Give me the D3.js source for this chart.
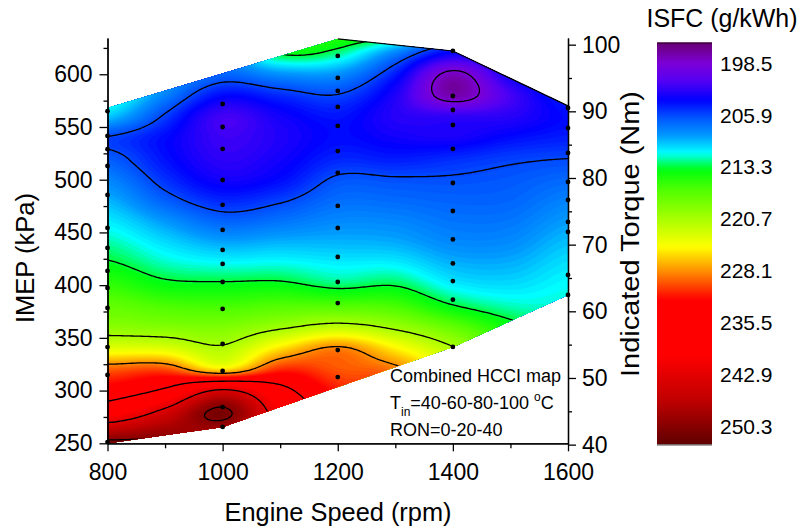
<!DOCTYPE html>
<html><head><meta charset="utf-8">
<script src="https://cdn.jsdelivr.net/npm/d3@7"></script>
<style>
body{margin:0;background:#fff}
text{font-family:Arial,"Liberation Sans",sans-serif;fill:#000}
</style></head>
<body><svg id="chart" width="802" height="531"></svg>
<script>
// ---------------- data ----------------
const gridSpeeds = [800,900,1000,1100,1200,1300,1400,1500,1600];
const gridImep = [240,260,280,300,320,340,360,380,400,420,440,460,480,500,520,540,560,580,600,620,640];
// ISFC (g/kWh), one list per engine speed, low -> high IMEP
const isfc800  = [255,247.3,238.4,233.2,229.5,223.4,219.4,217.5,215.5,213.6,212.2,210.9,209.5,208.1,206.6,205.8,210,212.5,214,216,218];
const isfc900  = [252,249,244,236.3,230,223.2,219.0,216.5,213.9,212,210.5,208.8,206.7,205.2,204.2,204,205.6,208,210,212,214];
const isfc1000 = [246,247.5,251.0,243.5,225.5,221.2,218.8,216.2,213.7,211.4,209.2,206.9,204.9,203.2,202.3,201.8,201.6,204.0,207,209,211];
const isfc1100 = [244,242,240.5,237,231,225.5,220.3,216.8,213.8,211.5,209.5,207.5,205.7,204,203.2,202.8,203.2,205,208.5,213.5,216];
const isfc1200 = [238,236,233.5,231.5,229.8,228.5,221.8,216.8,212.8,211,209.5,208.3,207.2,206.2,204.8,204,204.3,205.8,208.5,212.5,215.5];
const isfc1300 = [235,234,232.5,231,228.8,225,220.2,216.3,213.2,211,209.3,208.2,207.1,206.1,204.5,203.3,202.6,202.8,204.5,208,214];
const isfc1400 = [230,229,228,226.5,224,221,217.5,213.5,211,209.5,208.3,207.5,206.8,206.1,205,203,202.2,197.3,197.8,203.5,208];
const isfc1500 = [226,225,224,222.5,220,217,214.2,212,210.5,209.4,208.4,207.6,206.9,206.4,205.6,204,202.5,201.5,203.5,206,209];
const isfc1600 = [222,221,220,218.5,216.5,214.5,212.5,211.8,211.3,210.6,209.8,208.9,208,207,205.9,204.6,204,205,207,209,211];
const isfcColumns = [isfc800,isfc900,isfc1000,isfc1100,isfc1200,isfc1300,isfc1400,isfc1500,isfc1600];

// measured operating points (black dots)
const dotSpeeds = [800,1000,1200,1400,1600];
const dotImep800  = [565,541.5,529,513,485.6,454.3,435.3,413.5,397.3,378.3,341.3,314.8,251.2];
const dotImep1000 = [571.8,550,529.2,499.7,476.2,452.4,433.4,420.1,403,377.4,344.2,318.6,284.4,265.5];
const dotImep1200 = [617.4,596.5,584.2,569,551,527.2,506.4,475.1,454.2,426.7,403,383,338.4,312.8];
const dotImep1400 = [622.1,579.4,566.1,551.9,529.2,496.9,470.3,443.4,420.6,403.9,386.2,341.4];
const dotImep1600 = [568,549,525.4,497.9,480.8,460,450.5,409.7,390.7];
const dotImeps = [dotImep800,dotImep1000,dotImep1200,dotImep1400,dotImep1600];

// outline of the mapped region
const hullSpeed = [800,1000,1400,1600,1600,1400,1200,800];
const hullImep  = [250,265.5,341.4,390.6,570,622.1,633.5,568];
const edgeSpeed = [1200,1400,1600];
const edgeImep  = [633.5,622.1,570];

// contour levels / colour bar labels
const levels = [198.5,205.9,213.3,220.7,228.1,235.5,242.9,250.3];
const colorVals = [195.65,198.5,200.9,203.8,206.2,208.8,211.3,213.7,216.6,220.7,224.7,228.1,232.2,240.0,246.5,252.9];
const colorHex  = ['#680074','#7c00d6','#5800f2','#0000ff','#0052ff','#0098ff','#00ffff','#00ff10','#50ff00','#a8ff00','#ffff00','#ff9000','#ff0000','#ff0000','#c00000','#5e0000'];

const xTicks = [800,1000,1200,1400,1600];
const xMinor = [900,1100,1300,1500];
const yTicks = [250,300,350,400,450,500,550,600];
const yMinor = [275,325,375,425,475,525,575,625];
const tTicks = [40,50,60,70,80,90,100];
const tMinor = [45,55,65,75,85,95];

// ---------------- scales ----------------
const svg = d3.select('#chart');
const x = d3.scaleLinear().domain([800,1600]).range([107.5,568]);
const y = d3.scaleLinear().domain([250,634.4]).range([443.3,38]);
const yT = d3.scaleLinear().domain([40.2,101.0]).range([443.3,38]);
const color = d3.scaleLinear().domain(colorVals).range(colorHex).clamp(true);
const cb = d3.scaleLinear().domain([195.65,252.9]).range([43,445]);

// ---------------- surface ----------------
function cr(p0,p1,p2,p3,t){return p1+0.5*t*(p2-p0+t*(2*p0-5*p1+4*p2-p3+t*(3*(p1-p2)+p3-p0)));}
const nC = gridSpeeds.length, nR = gridImep.length;
function g(c,r){c=Math.max(0,Math.min(nC-1,c));r=Math.max(0,Math.min(nR-1,r));return isfcColumns[c][r];}
function surf(s,p){
  let fx=(s-gridSpeeds[0])/(gridSpeeds[1]-gridSpeeds[0]);
  let fy=(p-gridImep[0])/(gridImep[1]-gridImep[0]);
  fx=Math.max(0,Math.min(nC-1,fx)); fy=Math.max(0,Math.min(nR-1,fy));
  const c=Math.min(nC-2,Math.floor(fx)), r=Math.min(nR-2,Math.floor(fy));
  const tx=fx-c, ty=fy-r;
  const col=[];
  for(let k=-1;k<=2;k++){col.push(cr(g(c-1,r+k),g(c,r+k),g(c+1,r+k),g(c+2,r+k),tx));}
  return cr(col[0],col[1],col[2],col[3],ty);
}
const step=2, gx0=100, gy0=30, nx=240, ny=212;
const values=new Float64Array(nx*ny);
for(let j=0;j<ny;j++)for(let i=0;i<nx;i++){
  values[j*nx+i]=surf(x.invert(gx0+i*step),y.invert(gy0+j*step));
}
const gridPath=d3.geoPath(d3.geoTransform({point(px,py){this.stream.point(gx0+(px-0.5)*step,gy0+(py-0.5)*step);}}));

const hullLine=d3.line().x(d=>x(d[0])).y(d=>y(d[1]));
const hullPts=hullSpeed.map((s,i)=>[s,hullImep[i]]);
const defs=svg.append('defs');
defs.append('clipPath').attr('id','hull').append('path').attr('d',hullLine(hullPts)+'Z');

const map=svg.append('g').attr('clip-path','url(#hull)');
const bandT=d3.range(194,254,0.3);
const bands=d3.contours().size([nx,ny]).thresholds(bandT)(values);
map.selectAll('path.band').data(bands).join('path').attr('class','band')
  .attr('d',gridPath).attr('fill',d=>color(d.value+0.15)).attr('stroke',d=>color(d.value+0.15)).attr('stroke-width',0.3);
const lines=d3.contours().size([nx,ny]).thresholds(levels)(values);
map.selectAll('path.lev').data(lines).join('path').attr('class','lev')
  .attr('d',gridPath).attr('fill','none').attr('stroke','#000').attr('stroke-width',1.3);

svg.append('path').attr('d',hullLine(edgeSpeed.map((s,i)=>[s,edgeImep[i]])))
  .attr('fill','none').attr('stroke','#000').attr('stroke-width',1.2);

// dots
const dots=[];
dotSpeeds.forEach((s,i)=>dotImeps[i].forEach(p=>dots.push([s,p])));
svg.append('g').selectAll('circle').data(dots).join('circle')
  .attr('cx',d=>x(d[0])).attr('cy',d=>y(d[1])).attr('r',2.4).attr('fill','#000');

// ---------------- axes ----------------
function styleAxis(gs){gs.selectAll('path,line').attr('stroke','#000').attr('stroke-width',1.3);gs.selectAll('text').attr('font-size',23).attr('font-family','Arial,"Liberation Sans",sans-serif');}
svg.append('g').attr('transform','translate(0,443.3)')
  .call(d3.axisBottom(x).tickValues(xTicks).tickSize(8).tickSizeOuter(0).tickPadding(12).tickFormat(d3.format('d'))).call(styleAxis);
svg.append('g').attr('transform','translate(0,443.3)')
  .call(d3.axisBottom(x).tickValues(xMinor).tickSize(5).tickSizeOuter(0).tickFormat('')).call(styleAxis);
svg.append('g').attr('transform','translate(107.5,0)')
  .call(d3.axisLeft(y).tickValues(yTicks).tickSize(8).tickSizeOuter(0).tickPadding(7)).call(styleAxis);
svg.append('g').attr('transform','translate(107.5,0)')
  .call(d3.axisLeft(y).tickValues(yMinor).tickSize(4).tickSizeOuter(0).tickFormat('')).call(styleAxis);
svg.append('g').attr('transform','translate(568,0)')
  .call(d3.axisRight(yT).tickValues(tTicks).tickSize(8).tickSizeOuter(0).tickPadding(6)).call(styleAxis);
svg.append('g').attr('transform','translate(568,0)')
  .call(d3.axisRight(yT).tickValues(tMinor).tickSize(4).tickSizeOuter(0).tickFormat('')).call(styleAxis);

svg.append('text').attr('x',338).attr('y',521).attr('text-anchor','middle').attr('font-size',25)
  .attr('textLength',227).attr('lengthAdjust','spacingAndGlyphs').text('Engine Speed (rpm)');
svg.append('text').attr('transform','translate(34,258) rotate(-90)').attr('text-anchor','middle').attr('font-size',25)
  .attr('textLength',130).attr('lengthAdjust','spacingAndGlyphs').text('IMEP (kPa)');
svg.append('text').attr('transform','translate(639,234) rotate(-90)').attr('text-anchor','middle').attr('font-size',25)
  .attr('textLength',286).attr('lengthAdjust','spacingAndGlyphs').text('Indicated Torque (Nm)');

// annotation
const ann=svg.append('g');
ann.append('text').attr('x',390).attr('y',382).attr('font-size',18).text('Combined HCCI map');
const t2=ann.append('text').attr('x',390).attr('y',409).attr('font-size',18);
t2.append('tspan').text('T');
t2.append('tspan').attr('dy',7).attr('font-size',12).text('in');
t2.append('tspan').attr('dy',-7).text('=40-60-80-100 ');
t2.append('tspan').attr('dy',-8).attr('font-size',12).text('o');
t2.append('tspan').attr('dy',8).text('C');
ann.append('text').attr('x',390).attr('y',436).attr('font-size',18).text('RON=0-20-40');

// ---------------- colour bar ----------------
const grad=defs.append('linearGradient').attr('id','cbgrad').attr('x1',0).attr('y1',0).attr('x2',0).attr('y2',1);
d3.range(0,1.0001,0.01).forEach(f=>{
  const v=cb.invert(43+f*402);
  grad.append('stop').attr('offset',f).attr('stop-color',color(v));
});
svg.append('rect').attr('x',657).attr('y',43).attr('width',55).attr('height',402).attr('fill','url(#cbgrad)');
svg.append('line').attr('x1',657).attr('x2',712).attr('y1',43).attr('y2',43).attr('stroke','#3a003a').attr('stroke-width',1.5);
svg.append('line').attr('x1',657).attr('x2',712).attr('y1',445).attr('y2',445).attr('stroke','#888').attr('stroke-width',1.5);
svg.append('g').selectAll('text').data(levels).join('text')
  .attr('x',720).attr('y',d=>cb(d)).attr('dy','0.36em').attr('font-size',21).text(d=>d.toFixed(1));
svg.append('text').attr('x',722).attr('y',27).attr('text-anchor','middle').attr('font-size',25)
  .attr('textLength',151).attr('lengthAdjust','spacingAndGlyphs').text('ISFC (g/kWh)');
</script></body></html>
